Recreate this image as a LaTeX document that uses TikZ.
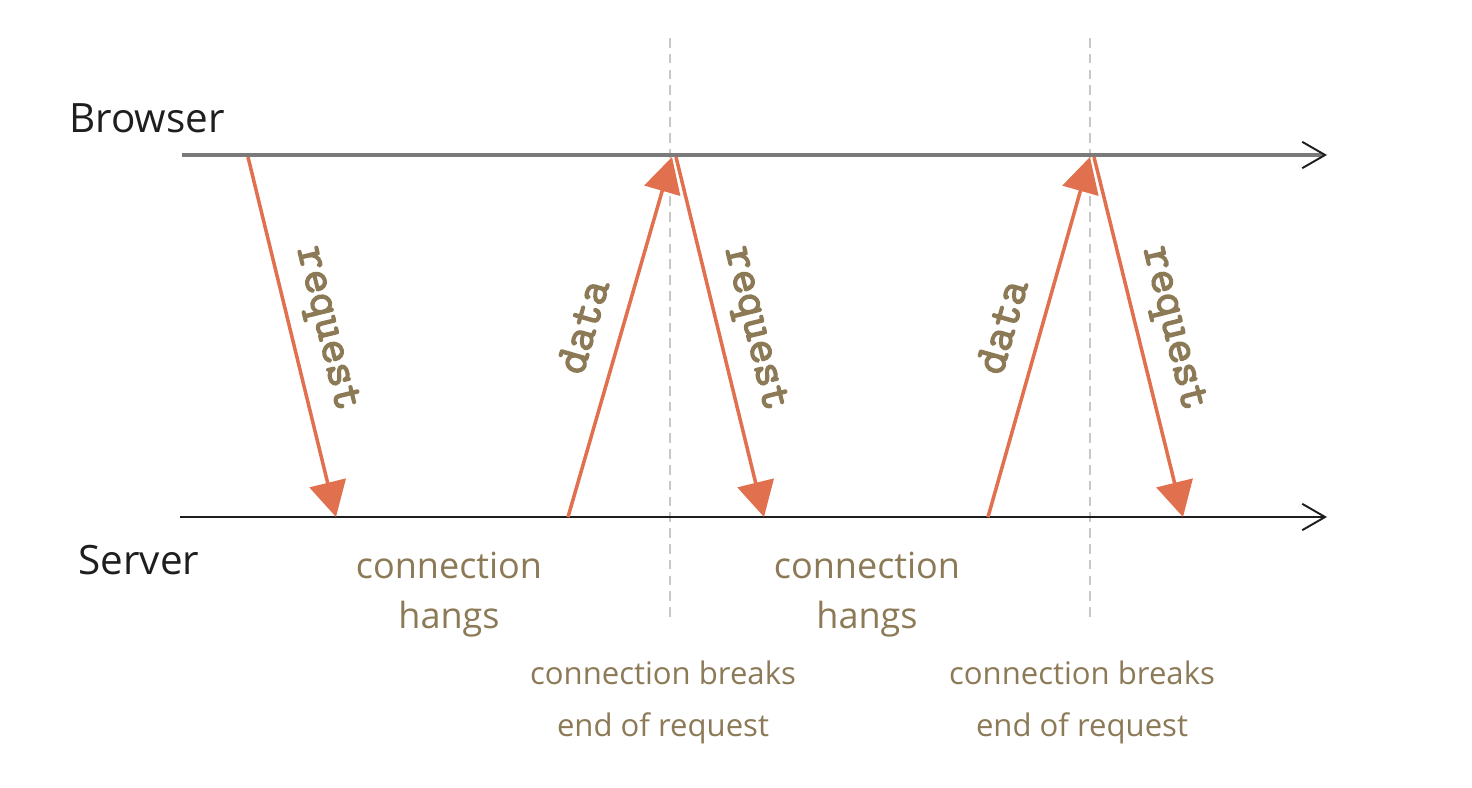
\documentclass[tikz,border=0pt]{standalone}
\usepackage{fontspec}
\setmainfont{Open Sans}
\newfontfamily\codefont{Latin Modern Mono}[FakeBold=3]
\usepackage{tikz}
\usetikzlibrary{arrows.meta}
\definecolor{ink}{HTML}{1E1E1E}
\definecolor{track}{HTML}{7A7A7A}
\definecolor{guide}{HTML}{C8C8C8}
\definecolor{coral}{HTML}{E0704E}
\definecolor{olive}{HTML}{8C7A57}
\tikzset{
  browserline/.style={draw=track, line width=2.2pt, -{Straight Barb[color=ink, length=13pt, width=15pt, line width=1.1pt]}},
  serverline/.style={draw=ink, line width=1.5pt, -{Straight Barb[length=13pt, width=15pt, line width=1.1pt]}},
  help/.style={draw=guide, line width=1.6pt, dash pattern=on 5.5pt off 3.5pt},
  msg/.style={draw=coral, line width=2pt, -{Triangle[length=20pt, width=21pt]}},
  labk/.style={text=ink, font=\fontsize{23}{28}\selectfont, inner sep=0pt},
  labm/.style={text=olive, font=\fontsize{20.5}{28.5}\selectfont, align=center, inner sep=0pt},
  labs/.style={text=olive, font=\fontsize{17.7}{29.5}\selectfont, align=center, inner sep=0pt},
  labt/.style={text=olive, font=\codefont\bfseries\fontsize{26.5}{30}\selectfont, inner sep=0pt},
}
\begin{document}
\begin{tikzpicture}[x=0.02cm, y=-0.02cm]
\useasboundingbox (0,0) rectangle (1472,788);
% timelines
\coordinate (b0) at (182,155);
\coordinate (b1) at (1327,155);
\coordinate (s0) at (180,517);
\coordinate (s1) at (1327,517);
\node[labk] (browser) at (147,118) {Browser};
\node[labk] (server) at (139,560) {Server};
% guides
\coordinate (g1t) at (670,38);
\coordinate (g1b) at (670,622);
\coordinate (g2t) at (1090,38);
\coordinate (g2b) at (1090,622);
\draw[help] (g1t) -- (g1b);
\draw[help] (g2t) -- (g2b);
\draw[browserline] (b0) -- (b1);
\draw[serverline] (s0) -- (s1);
% messages
\coordinate (r1a) at (248,157);
\coordinate (r1b) at (336,517);
\coordinate (d1a) at (568,517);
\coordinate (d1b) at (672,157);
\coordinate (r2a) at (676,157);
\coordinate (r2b) at (764,517);
\coordinate (d2a) at (988,517);
\coordinate (d2b) at (1090,157);
\coordinate (r3a) at (1094,157);
\coordinate (r3b) at (1183,517);
\draw[msg] (r1a) -- node[labt, sloped, above=8pt] (q1) {request} (r1b);
\draw[msg] (d1a) -- node[labt, sloped, above=13pt] (p1) {data} (d1b);
\draw[msg] (r2a) -- node[labt, sloped, above=8pt] (q2) {request} (r2b);
\draw[msg] (d2a) -- node[labt, sloped, above=13pt] (p2) {data} (d2b);
\draw[msg] (r3a) -- node[labt, sloped, above=8pt] (q3) {request} (r3b);
% notes
\node[labm] (hang1) at (449,595) {connection\\hangs};
\node[labm] (hang2) at (867,595) {connection\\hangs};
\node[labs] (break1) at (663,702) {connection breaks\\end of request};
\node[labs] (break2) at (1082,702) {connection breaks\\end of request};
\end{tikzpicture}
\end{document}
